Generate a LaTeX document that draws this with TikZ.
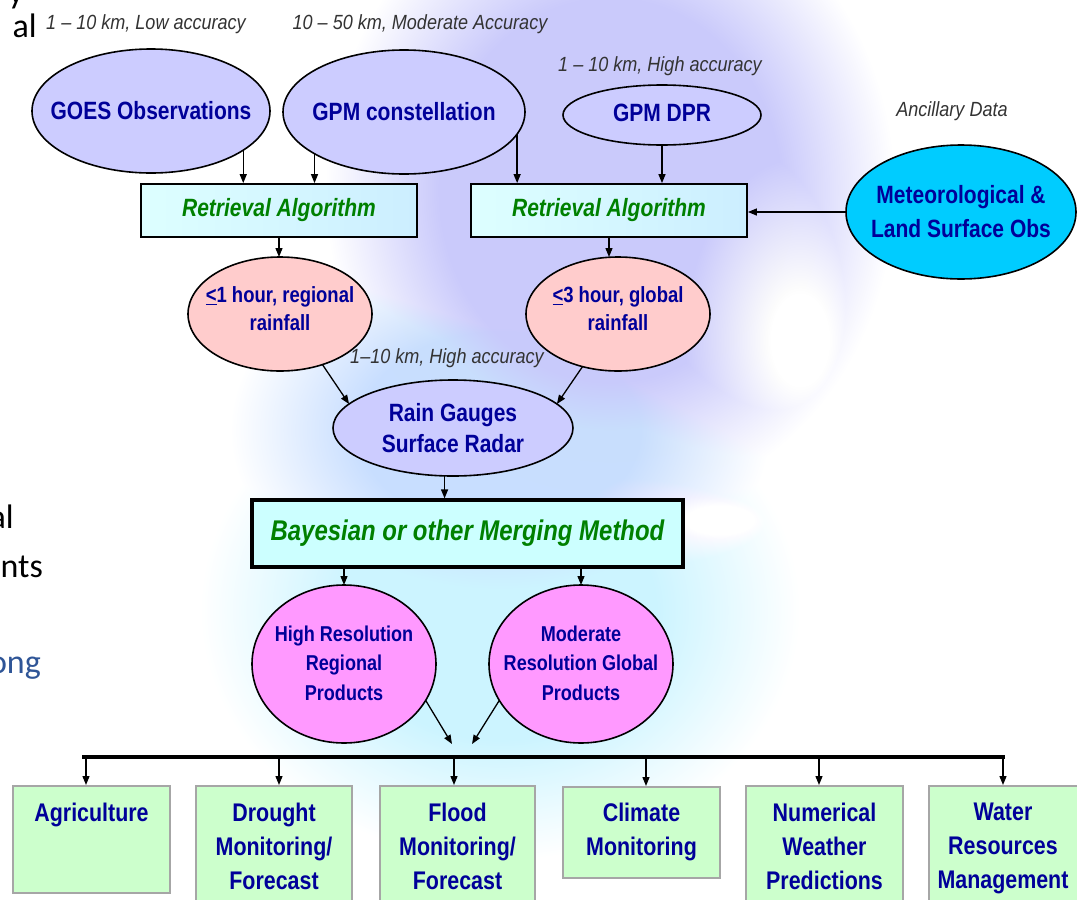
\documentclass[tikz,border=0pt]{standalone}
\usepackage{fontspec}
\setmainfont{Liberation Sans}
\newfontfamily\nar[FakeStretch=0.84]{Liberation Sans}
\newfontfamily\narn[FakeStretch=0.88]{Liberation Sans}
\newfontfamily\slidefont{Carlito}
\usetikzlibrary{arrows.meta,shapes.geometric}
\definecolor{lav}{HTML}{CCCCFF}
\definecolor{navy}{HTML}{000099}
\definecolor{grn}{HTML}{008000}
\definecolor{pinkf}{HTML}{FFCCCC}
\definecolor{metf}{HTML}{00CCFF}
\definecolor{prodf}{HTML}{FF99FF}
\definecolor{gfill}{HTML}{CCFFCC}
\definecolor{gborder}{HTML}{A6A6A6}
\definecolor{raL}{HTML}{DDFFFF}
\definecolor{raR}{HTML}{CCEEFF}
\definecolor{bayf}{HTML}{CCFFFF}
\definecolor{notec}{HTML}{333333}
\definecolor{slideblue}{HTML}{2F5597}
\definecolor{gtop}{HTML}{CACAFB}
\definecolor{gmid}{HTML}{C8DEFF}
\definecolor{gbot}{HTML}{CCF4FF}
\pgfdeclareradialshading{globeA}{\pgfpointorigin}{color(0bp)=(gtop); color(15bp)=(gtop); color(25bp)=(white); color(50bp)=(white)}
\pgfdeclareradialshading{globeM}{\pgfpointorigin}{color(0bp)=(gmid); color(13bp)=(gmid); color(25bp)=(white); color(50bp)=(white)}
\pgfdeclareradialshading{globeB}{\pgfpointorigin}{color(0bp)=(gbot); color(13bp)=(gbot); color(25bp)=(white); color(50bp)=(white)}
\pgfdeclareradialshading{cloudsh}{\pgfpointorigin}{color(0bp)=(white); color(6bp)=(white); color(25bp)=(black!22); color(50bp)=(black!22)}
\tikzset{
  ell/.style={ellipse, draw=black, line width=1.6pt, inner sep=0pt, outer sep=0pt},
  etxt/.style={font=\nar\bfseries\fontsize{25}{31}\selectfont, text=navy, align=center, inner sep=0pt},
  rbox/.style={rectangle, draw=black, line width=1.8pt, left color=raL, right color=raR,
    minimum width=276pt, minimum height=53pt, inner sep=0pt,
    font=\nar\bfseries\itshape\fontsize{25}{27}\selectfont, text=grn},
  gbox/.style={rectangle, draw=gborder, line width=2pt, fill=gfill, inner sep=0pt},
  gtxt/.style={font=\nar\bfseries\fontsize{25.5}{34}\selectfont, text=navy, align=center, inner sep=0pt, anchor=north},
  note/.style={font=\narn\itshape\fontsize{20.5}{22}\selectfont, text=notec, inner sep=0pt},
  slide/.style={font=\slidefont\fontsize{34}{40}\selectfont, text=black, inner sep=0pt, anchor=base east},
  arr/.style={-{Triangle[length=9pt,width=7pt]}, line width=1.3pt},
}
\begin{document}
\begin{tikzpicture}[x=1pt,y=-1pt]
\useasboundingbox (0,0) rectangle (1077,900);
\fill[white] (0,0) rectangle (1077,900);
% watermark globe
\shade[shading=globeA] (610,190) ellipse [x radius=285pt, y radius=320pt];
\begin{scope}[blend mode=darken]
  \shade[shading=globeM] (500,430) ellipse [x radius=270pt, y radius=190pt];
  \shade[shading=globeB] (500,610) ellipse [x radius=300pt, y radius=250pt];
\end{scope}
\begin{scope}[blend mode=lighten]
  \shade[shading=cloudsh] (800,340) ellipse [x radius=120pt, y radius=190pt];
  \shade[shading=cloudsh] (720,520) ellipse [x radius=140pt, y radius=60pt];
\end{scope}

% slide fragments
\node[slide] (s0) at (24,3) {y};
\node[slide] (s1) at (37,37) {al};
\node[slide] (s2) at (14,528) {al};
\node[slide] (s3) at (43,577) {nts};
\node[slide, text=slideblue] (s4) at (41,673) {ong};

% notes
\node[note] (n1) at (146,24) {1 – 10 km, Low accuracy};
\node[note] (n2) at (420,24) {10 – 50 km, Moderate Accuracy};
\node[note] (n3) at (660,66) {1 – 10 km, High accuracy};
\node[note] (n4) at (952,111) {Ancillary Data};
\node[note] (n5) at (447,358) {1–10 km, High accuracy};

% sources
\node[ell, fill=lav, minimum width=238pt, minimum height=124pt] (goes) at (151,111) {};
\node[etxt] (goesT) at (goes.center) {GOES Observations};
\node[ell, fill=lav, minimum width=242pt, minimum height=124pt] (gpmc) at (404,112) {};
\node[etxt] (gpmcT) at (gpmc.center) {GPM constellation};
\node[ell, fill=lav, minimum width=198pt, minimum height=60pt] (dpr) at (662,115) {};
\node[etxt] (dprT) at (662,113) {GPM DPR};
\node[ell, fill=metf, minimum width=230pt, minimum height=134pt] (met) at (961,212) {};
\node[etxt, font=\nar\bfseries\fontsize{25}{34}\selectfont] (metT) at (met.center) {Meteorological \&\\Land Surface Obs};

% retrieval
\node[rbox] (ra1) at (279,210.5) {Retrieval Algorithm};
\node[rbox] (ra2) at (609,210.5) {Retrieval Algorithm};

% rainfall
\node[ell, fill=pinkf, minimum width=184pt, minimum height=114pt] (rf1) at (280,314) {};
\node[etxt, font=\nar\bfseries\fontsize{22}{28}\selectfont] (rf1T) at (280,309) {\underline{<}1 hour, regional\\rainfall};
\node[ell, fill=pinkf, minimum width=184pt, minimum height=114pt] (rf2) at (618,314) {};
\node[etxt, font=\nar\bfseries\fontsize{22}{28}\selectfont] (rf2T) at (618,309) {\underline{<}3 hour, global\\rainfall};

% gauges
\node[ell, fill=lav, minimum width=240pt, minimum height=96pt] (rg) at (453,428) {};
\node[etxt] (rgT) at (453,428) {Rain Gauges\\Surface Radar};

% merging
\node[rectangle, draw=black, line width=3.2pt, fill=bayf, minimum width=431pt, minimum height=67pt,
  inner sep=0pt, font=\nar\bfseries\itshape\fontsize{28.5}{30}\selectfont, text=grn] (bay) at (467.5,533.5)
  {Bayesian or other Merging Method};

% products
\node[ell, fill=prodf, minimum width=184pt, minimum height=158pt] (hr) at (344,664) {};
\node[etxt, font=\nar\bfseries\fontsize{21.5}{29.5}\selectfont] (hrT) at (344,663) {High Resolution\\Regional\\Products};
\node[ell, fill=prodf, minimum width=184pt, minimum height=158pt] (mr) at (581,664) {};
\node[etxt, font=\nar\bfseries\fontsize{21.5}{29.5}\selectfont] (mrT) at (581,663) {Moderate\\Resolution Global\\Products};

% application boxes
\node[gbox, minimum width=157pt, minimum height=107pt] (agri) at (91.5,839.5) {};
\node[gbox, minimum width=156pt, minimum height=134pt] (dro) at (274,853) {};
\node[gbox, minimum width=155pt, minimum height=134pt] (flo) at (457.5,853) {};
\node[gbox, minimum width=157pt, minimum height=91pt] (cli) at (641.5,832.5) {};
\node[gbox, minimum width=157pt, minimum height=134pt] (num) at (824.5,853) {};
\node[gbox, minimum width=156pt, minimum height=134pt] (wat) at (1007,853) {};
\node[gtxt] (agriT) at (91.5,803) {Agriculture};
\node[gtxt] (droT) at (274,803) {Drought\\Monitoring/\\Forecast};
\node[gtxt] (floT) at (457.5,803) {Flood\\Monitoring/\\Forecast};
\node[gtxt] (cliT) at (641.5,803) {Climate\\Monitoring};
\node[gtxt] (numT) at (824.5,803) {Numerical\\Weather\\Predictions};
\node[gtxt] (watT) at (1003,803) {Water\\Resources\\Management};

% connectors
\draw[arr] (goes.-23) -- (goes.-23 |- ra1.north);
\draw[arr] (gpmc.205) -- (gpmc.205 |- ra1.north);
\draw[arr] (gpmc.-11) -- (gpmc.-11 |- ra2.north);
\draw[arr] (dpr.south) -- (dpr.south |- ra2.north);
\draw[arr] (met.west) -- (met.west -| ra2.east);
\draw[arr] (ra1.south) -- (ra1.south |- rf1.north);
\draw[arr] (ra2.south) -- (ra2.south |- rf2.north);
\draw[arr] (rf1.-50) -- (rg.167);
\draw[arr] (rf2.-124) -- (rg.13);
\draw[arr] (rg.-100) -- (rg.-100 |- bay.north);
\draw[arr] (hr.north |- bay.south) -- (hr.north);
\draw[arr] (mr.north |- bay.south) -- (mr.north);
\coordinate (hrEnd) at (452,744);
\coordinate (mrEnd) at (472,744);
\draw[arr] (hr.-24) -- (hrEnd);
\draw[arr] (mr.-156) -- (mrEnd);

% distribution bus
\coordinate (busL) at (82,757);
\coordinate (busR) at (1005,757);
\draw[line width=4pt] (busL) -- (busR);
\coordinate (d1) at (86,757);
\coordinate (d2) at (279,757);
\coordinate (d3) at (454,757);
\coordinate (d4) at (646,757);
\coordinate (d5) at (819,757);
\coordinate (d6) at (1003,757);
\draw[arr] (d1) -- (d1 |- agri.north);
\draw[arr] (d2) -- (d2 |- dro.north);
\draw[arr] (d3) -- (d3 |- flo.north);
\draw[arr] (d4) -- (d4 |- cli.north);
\draw[arr] (d5) -- (d5 |- num.north);
\draw[arr] (d6) -- (d6 |- wat.north);
\end{tikzpicture}
\end{document}
